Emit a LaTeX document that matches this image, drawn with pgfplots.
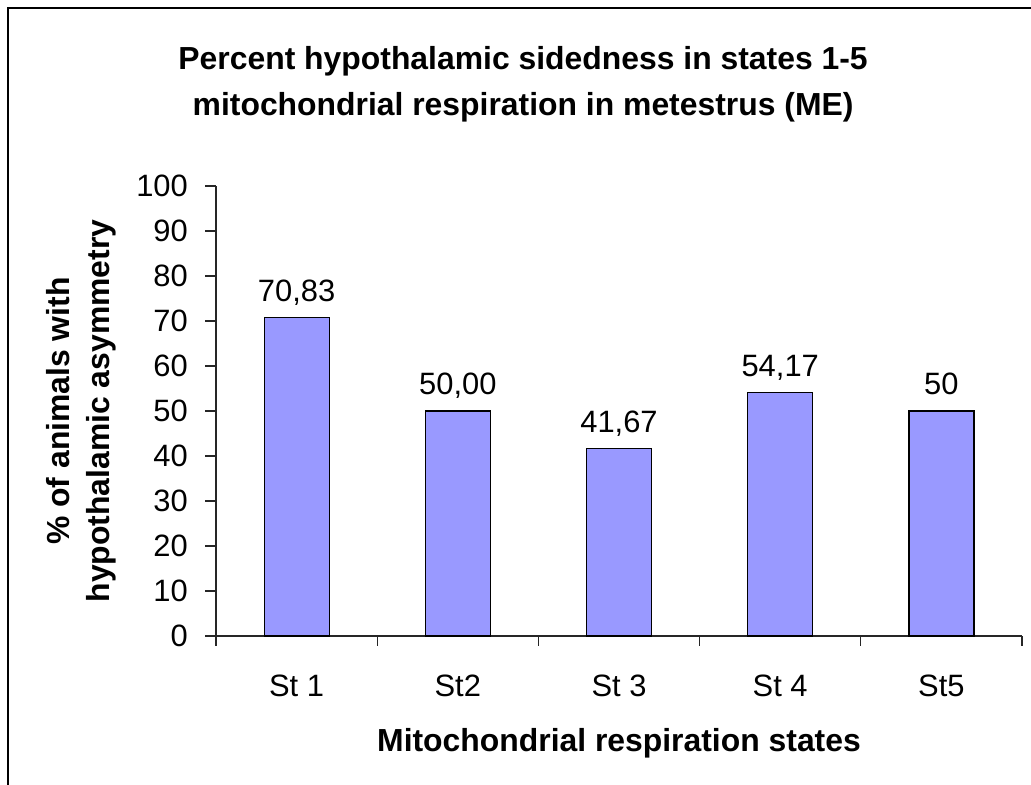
\documentclass[border=0pt]{standalone}
\usepackage{pgfplots}
\pgfplotsset{compat=1.18}
\usepackage{fontspec}
\setmainfont{Liberation Sans}
\definecolor{barblue}{RGB}{153,153,255}
\begin{document}
\begin{tikzpicture}[x=1bp,y=1bp]
\useasboundingbox (0,0) rectangle (1031,785);
\draw[line width=2bp] (7.5,0) -- (7.5,776.5) -- (1031,776.5);
\begin{axis}[
  at={(216bp,149bp)}, anchor=south west,
  scale only axis, width=806bp, height=450bp,
  xmin=-0.5, xmax=4.5, ymin=0, ymax=100,
  axis x line*=bottom, axis y line*=left,
  axis line style={line width=1.2bp, black!85},
  xtick={0,1,2,3,4},
  xticklabels={St 1,St2,St 3,St 4,St5},
  major x tick style={draw=none},
  minor xtick={-0.5,0.5,1.5,2.5,3.5,4.5},
  minor x tick style={line width=1.2bp, black!85},
  minor tick length=10bp,
  ytick={0,10,...,100},
  y tick style={line width=1.2bp, black!85},
  major tick length=11bp,
  tick align=outside,
  /pgf/number format/assume math mode=true,
  tick label style={font=\fontsize{31}{36}\selectfont},
  xticklabel style={anchor=base, inner sep=0pt, yshift=-50bp},
  yticklabel style={anchor=east, inner sep=0pt, xshift=-17bp},
  ybar, bar width=65bp,
  title={Percent hypothalamic sidedness in states 1-5\\mitochondrial respiration in metestrus (ME)},
  title style={at={(axis description cs:0.381,1.298)}, anchor=north, inner sep=0pt, align=center, font=\fontsize{32}{46}\selectfont\bfseries},
  xlabel={Mitochondrial respiration states},
  xlabel style={at={(axis description cs:0.5,-0.256)}, anchor=base, inner sep=0pt, font=\fontsize{32}{38}\selectfont\bfseries},
  ylabel={\% of animals with\\hypothalamic asymmetry},
  ylabel style={at={(axis description cs:-0.1675,0.5)}, anchor=center, inner sep=0pt, align=center, font=\fontsize{32}{40}\selectfont\bfseries},
  point meta=explicit symbolic,
  nodes near coords,
  every node near coord/.append style={anchor=base, inner sep=0pt, yshift=16bp, font=\fontsize{31}{36}\selectfont, black},
  clip=false,
]
\addplot[fill=barblue, draw=black, line width=1.2bp] table[meta=lab] {
x y lab
0 70.83 70,83
1 50.00 50,00
2 41.67 41,67
3 54.17 54,17
4 50 50
};
\end{axis}
\end{tikzpicture}
\end{document}
